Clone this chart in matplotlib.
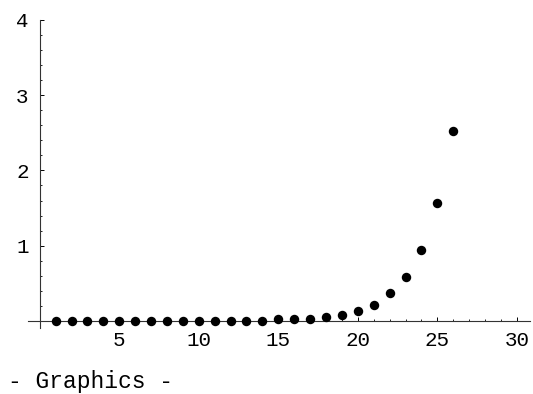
#!/usr/bin/env python3
"""
plot.py

Puntos de una secuencia que crece de forma casi exponencial,
dibujados al estilo de una salida de Mathematica.
"""

import matplotlib
matplotlib.use("Agg")
import matplotlib.pyplot as plt
from matplotlib.ticker import FixedLocator

# Datos
n_values = list(range(1, 27))
y_values = [0.0, 0.0, 0.0, 0.0, 0.0, 0.0, 0.0, 0.0, 0.0, 0.0,
            0.0, 0.0, 0.0, 0.005, 0.023, 0.023, 0.023, 0.057, 0.076, 0.137,
            0.216, 0.368, 0.59, 0.947, 1.57, 2.52]
x_ticks = [5, 10, 15, 20, 25, 30]
y_ticks = [1, 2, 3, 4]
x_minor = [i for i in range(1, 31) if i % 5 != 0]
y_minor = [i / 5 for i in range(1, 20) if i % 5 != 0]

FONT = "Liberation Mono"


def main():
    fig = plt.figure(figsize=(5.33, 3.94), dpi=100)
    ax = fig.add_axes([0, 0, 1, 1])
    ax.patch.set_alpha(0)

    # Mapeo pixel: x=0 -> 39.8 px, 15.9 px por unidad; y=0 -> 321 px, 75.3 px por unidad
    ax.set_xlim(-39.8 / 15.9, (533 - 39.8) / 15.9)
    ax.set_ylim(-(394 - 321) / 75.3, 321 / 75.3)

    ax.plot(n_values, y_values, "o", color="black", markersize=6.8,
            markeredgewidth=0, clip_on=False, zorder=3)

    for side in ("top", "right"):
        ax.spines[side].set_visible(False)
    ax.spines["left"].set_position(("data", 0))
    ax.spines["bottom"].set_position(("data", 0))
    ax.spines["left"].set_bounds(-0.093, 4.0)
    ax.spines["bottom"].set_bounds(-0.75, 30.8)
    for side in ("left", "bottom"):
        ax.spines[side].set_linewidth(0.8)
        ax.spines[side].set_color("#333333")

    ax.xaxis.set_major_locator(FixedLocator(x_ticks))
    ax.xaxis.set_minor_locator(FixedLocator(x_minor))
    ax.yaxis.set_major_locator(FixedLocator(y_ticks))
    ax.yaxis.set_minor_locator(FixedLocator(y_minor))

    ax.tick_params(axis="x", which="major", direction="in", length=3.2,
                   width=0.7, pad=7, labelsize=15)
    ax.tick_params(axis="x", which="minor", direction="in", length=1.6,
                   width=0.6)
    ax.tick_params(axis="y", which="major", direction="in", length=3.2,
                   width=0.7, pad=8, labelsize=15)
    ax.tick_params(axis="y", which="minor", direction="in", length=1.6,
                   width=0.6)
    for lab in ax.get_xticklabels() + ax.get_yticklabels():
        lab.set_fontfamily(FONT)

    fig.text(8 / 533, 1 - 388 / 394, "- Graphics -", fontsize=16.5,
             family=FONT, ha="left", va="baseline")

    fig.savefig("out.png", dpi=100)


if __name__ == "__main__":
    main()
